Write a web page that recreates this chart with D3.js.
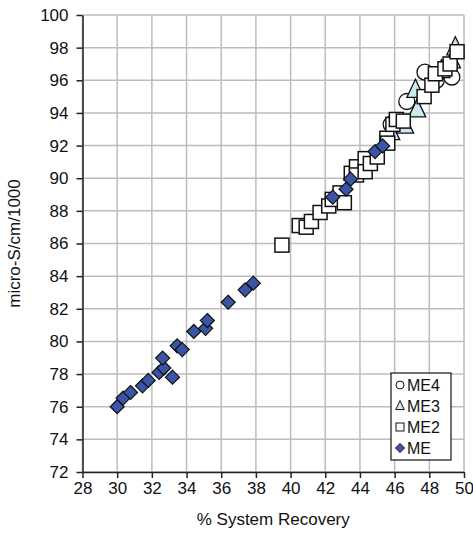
<!DOCTYPE html>
<html>
<head>
<meta charset="utf-8">
<style>
    body { margin: 0; background: #fff; }
    svg { font-family: 'Liberation Sans', Arial, sans-serif; }
</style>
</head>
<body>
<svg width="473" height="534"></svg>
<script src="https://d3js.org/d3.v7.min.js"></script>
<script>
    // tick values
    let xTicks = d3.range(28, 51, 2);
    let yTicks = d3.range(72, 101, 2);

    // ME4 (circles)
    let me4X = [45.8, 46.7, 47.75, 48.4, 49.0, 49.3];
    let me4Y = [93.3, 94.7, 96.5, 96.0, 96.8, 96.2];

    // ME3 (triangles)
    let me3X = [45.8, 46.6, 47.3, 47.2, 48.7, 49.3, 49.5];
    let me3Y = [92.8, 93.2, 94.2, 95.4, 96.6, 97.2, 98.0];

    // ME2 (squares)
    let me2X = [39.5, 40.5, 40.9, 41.2, 41.7, 42.2, 42.4, 42.85, 43.1, 43.5, 43.8, 43.8, 44.3, 44.3, 44.6,
        45.0, 45.55, 45.6, 45.9, 46.1, 46.5, 47.7, 48.15, 48.35, 48.9, 49.2, 49.6];
    let me2Y = [85.9, 87.1, 87.0, 87.35, 87.9, 88.3, 88.7, 89.1, 88.5, 90.3, 90.7, 90.2, 91.2, 90.4, 90.9,
        91.3, 92.45, 92.15, 93.3, 93.6, 93.5, 95.0, 95.7, 96.4, 96.7, 97.0, 97.75];

    // ME (diamonds)
    let meX = [30.0, 30.34, 30.77, 31.46, 31.79, 32.42, 32.69, 32.62, 33.19, 33.46, 33.75, 34.42, 35.1, 35.2,
        36.4, 37.38, 37.85, 42.43, 43.2, 43.46, 44.87, 45.31];
    let meY = [76.0, 76.53, 76.87, 77.28, 77.61, 78.1, 78.37, 78.98, 77.81, 79.73, 79.5, 80.61, 80.8, 81.28,
        82.4, 83.16, 83.57, 88.84, 89.33, 89.94, 91.63, 91.98];

    let legendNames = ["ME4", "ME3", "ME2", "ME"];

    let plotL = 82.5, plotR = 464, plotT = 15, plotB = 472;

    let svg = d3.select("svg");

    let x = d3.scaleLinear().domain([28, 50]).range([plotL, plotR]);
    let y = d3.scaleLinear().domain([72, 100]).range([plotB, plotT]);

    // gridlines
    svg.append("g")
        .selectAll("line")
        .data(xTicks)
        .join("line")
        .attr("x1", d => x(d)).attr("x2", d => x(d))
        .attr("y1", plotT).attr("y2", plotB)
        .style("stroke", "#bdbdbd").style("stroke-width", 1.5);

    svg.append("g")
        .selectAll("line")
        .data(yTicks)
        .join("line")
        .attr("x1", plotL).attr("x2", plotR)
        .attr("y1", d => y(d)).attr("y2", d => y(d))
        .style("stroke", "#bdbdbd").style("stroke-width", 1.5);

    // axes
    let xAxis = svg.append("g")
        .attr("transform", "translate(0," + plotB + ")")
        .call(d3.axisBottom(x).tickValues(xTicks).tickSize(6).tickSizeOuter(0).tickPadding(4));
    let yAxis = svg.append("g")
        .attr("transform", "translate(" + plotL + ",0)")
        .call(d3.axisLeft(y).tickValues(yTicks).tickSize(6).tickSizeOuter(0).tickPadding(8));

    [xAxis, yAxis].forEach(a => {
        a.select(".domain").style("stroke", "#222").style("stroke-width", 1.5);
        a.selectAll(".tick line").style("stroke", "#222").style("stroke-width", 1.5);
        a.selectAll(".tick text").style("font-size", "17px").style("fill", "#111")
            .style("font-family", "'Liberation Sans', Arial, sans-serif");
    });

    // axis titles
    svg.append("text")
        .attr("x", (plotL + plotR) / 2).attr("y", 525)
        .attr("text-anchor", "middle")
        .style("font-size", "17px").style("fill", "#111")
        .text("% System Recovery");

    svg.append("text")
        .attr("transform", "translate(20," + ((plotT + plotB) / 2) + ") rotate(-90)")
        .attr("text-anchor", "middle")
        .style("font-size", "17px").style("fill", "#111")
        .text("micro-S/cm/1000");

    // marker shapes
    function triPath(s) {
        let w = s * 0.95, h = s;
        return "M0," + (-h * 0.6) + "L" + (w / 2) + "," + (h * 0.4) + "L" + (-w / 2) + "," + (h * 0.4) + "Z";
    }

    let plot = svg.append("g");

    plot.selectAll(".me4")
        .data(d3.zip(me4X, me4Y))
        .join("circle")
        .attr("cx", d => x(d[0])).attr("cy", d => y(d[1]))
        .attr("r", 8)
        .style("fill", "#fff").style("stroke", "#111").style("stroke-width", 1.3);

    plot.selectAll(".me3")
        .data(d3.zip(me3X, me3Y))
        .join("path")
        .attr("d", triPath(18))
        .attr("transform", d => "translate(" + x(d[0]) + "," + y(d[1]) + ")")
        .style("fill", "#cde9f0").style("stroke", "#111").style("stroke-width", 1.3);

    plot.selectAll(".me2")
        .data(d3.zip(me2X, me2Y))
        .join("rect")
        .attr("x", d => x(d[0]) - 7).attr("y", d => y(d[1]) - 7)
        .attr("width", 14).attr("height", 14)
        .style("fill", "#fff").style("stroke", "#111").style("stroke-width", 1.5);

    plot.selectAll(".me")
        .data(d3.zip(meX, meY))
        .join("path")
        .attr("d", "M0,-7L7,0L0,7L-7,0Z")
        .attr("transform", d => "translate(" + x(d[0]) + "," + y(d[1]) + ")")
        .style("fill", "#3a55a5").style("stroke", "#111").style("stroke-width", 1.2);

    // legend
    let lg = svg.append("g").attr("transform", "translate(391,373)");
    lg.append("rect")
        .attr("width", 60).attr("height", 87)
        .style("fill", "#fff").style("stroke", "#111").style("stroke-width", 1.2);

    let rowY = d3.scalePoint().domain(legendNames).range([12, 75]);

    legendNames.forEach(name => {
        let cy = rowY(name);
        let g = lg.append("g").attr("transform", "translate(9," + cy + ")");
        if (name === "ME4") {
            g.append("circle").attr("r", 4).style("fill", "#fff").style("stroke", "#111").style("stroke-width", 1);
        } else if (name === "ME3") {
            g.append("path").attr("d", triPath(9)).style("fill", "#cde9f0").style("stroke", "#111").style("stroke-width", 1);
        } else if (name === "ME2") {
            g.append("rect").attr("x", -4).attr("y", -4).attr("width", 8).attr("height", 8)
                .style("fill", "#fff").style("stroke", "#111").style("stroke-width", 1);
        } else {
            g.append("path").attr("d", "M0,-4.5L4.5,0L0,4.5L-4.5,0Z")
                .style("fill", "#3a55a5").style("stroke", "#111").style("stroke-width", 1);
        }
        lg.append("text")
            .attr("x", 16).attr("y", cy).attr("dy", "0.35em")
            .style("font-size", "16px").style("fill", "#111")
            .text(name);
    });
</script>
</body>
</html>
